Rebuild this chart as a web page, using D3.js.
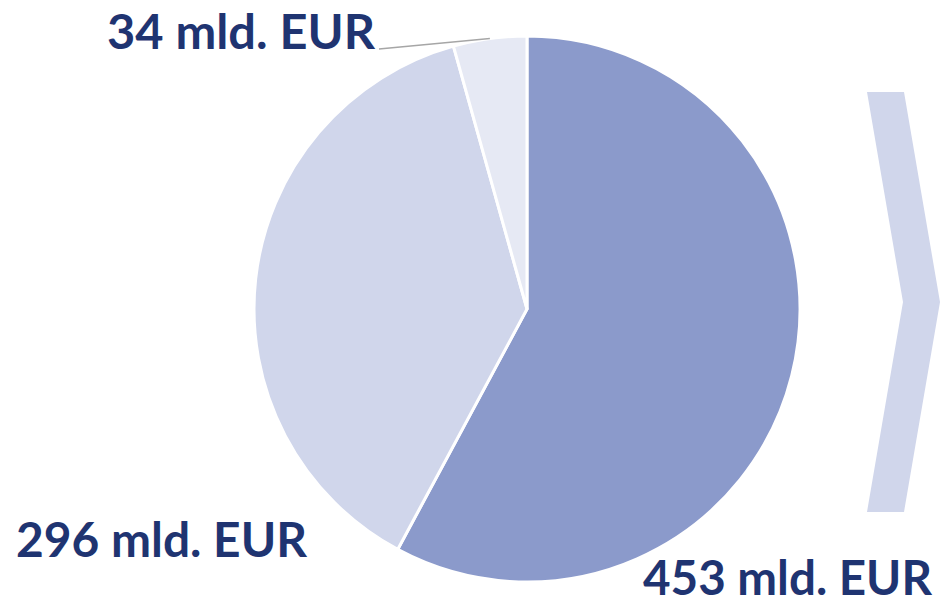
<!DOCTYPE html>
<html>
<head>
<meta charset="utf-8">
<script src="https://cdn.jsdelivr.net/npm/d3@7"></script>
<style>
  body { margin: 0; background: #fff; }
  svg text { font-family: Lato, "Open Sans", sans-serif; font-weight: 700; fill: #1f3471; }
</style>
</head>
<body>
<svg id="chart" width="941" height="600"></svg>
<script>
// slices, clockwise from 12 o'clock
const categories = ["A", "B", "C"]
const values = [453, 296, 34]
const labels = ["453 mld. EUR", "296 mld. EUR", "34 mld. EUR"]
const colors = ["#8b9acb", "#d0d6eb", "#e6e9f4"]

const width = 941, height = 600
const cx = 527, cy = 309, radius = 273

const svg = d3.select("#chart")

const pie = d3.pie()
  .sort(null)
  .value(d => d.value)

const arcs = pie(categories.map((c, i) => ({ cat: c, value: values[i], label: labels[i], color: colors[i] })))

const arc = d3.arc()
  .innerRadius(0)
  .outerRadius(radius)

const g = svg.append("g")
  .attr("transform", "translate(" + cx + "," + cy + ")")

g.selectAll("path")
  .data(arcs)
  .enter()
  .append("path")
  .attr("d", arc)
  .attr("fill", d => d.data.color)
  .attr("stroke", "#fff")
  .attr("stroke-width", 3)
  .attr("stroke-linejoin", "round")

// label placement: [x, baseline, textLength]
const labelPos = [
  [643, 595, 289],
  [16, 557, 291],
  [107, 49, 268]
]

svg.selectAll("text.lbl")
  .data(arcs)
  .enter()
  .append("text")
  .attr("class", "lbl")
  .attr("x", (d, i) => labelPos[i][0])
  .attr("y", (d, i) => labelPos[i][1])
  .attr("font-size", 47)
  .attr("textLength", (d, i) => labelPos[i][2])
  .attr("lengthAdjust", "spacingAndGlyphs")
  .text(d => d.data.label)

// leader line for the small slice, to the middle of its outer edge
const small = arcs[2]
const mid = (small.startAngle + small.endAngle) / 2
const edge = [cx + Math.sin(mid) * radius, cy - Math.cos(mid) * radius]
svg.append("line")
  .attr("x1", 379).attr("y1", 49)
  .attr("x2", edge[0]).attr("y2", edge[1])
  .attr("stroke", "#a6a6a6")
  .attr("stroke-width", 1.5)

// chevron on the right
const chevron = [[867, 92], [904, 92], [940, 302], [904, 512], [867, 512], [903, 302]]
svg.append("path")
  .attr("d", d3.line()(chevron) + "Z")
  .attr("fill", "#d0d6eb")
</script>
</body>
</html>
